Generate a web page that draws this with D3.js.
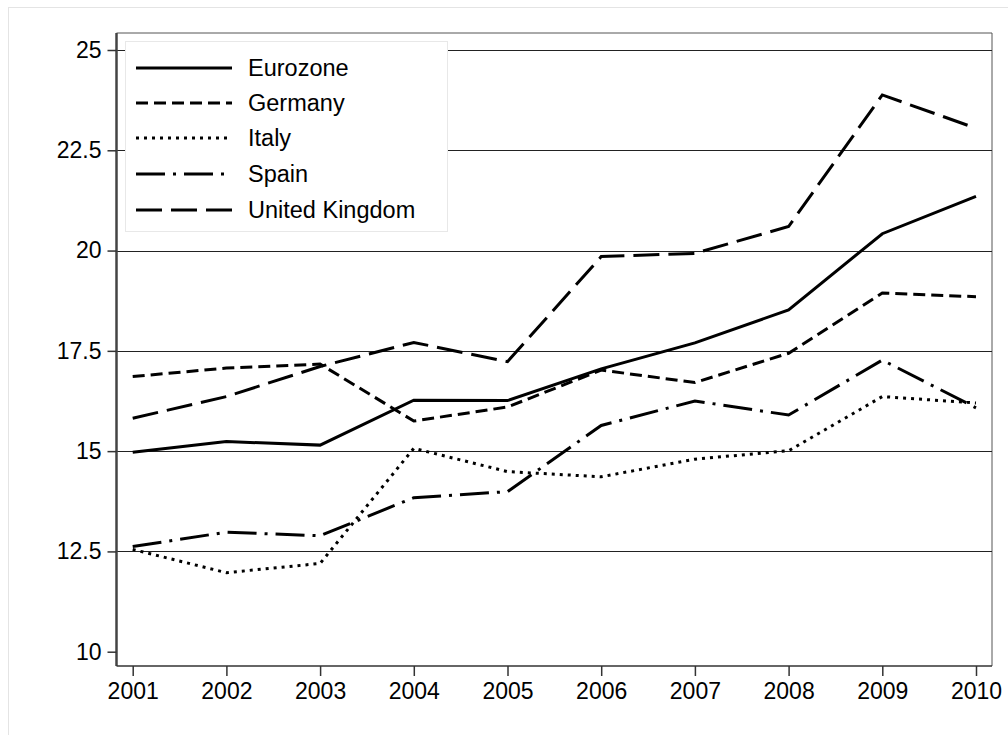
<!DOCTYPE html>
<html><head><meta charset="utf-8">
<script src="https://cdn.jsdelivr.net/npm/d3@7"></script>
<style>body{margin:0;background:#fff}svg{display:block}text{font-family:"Liberation Sans",Arial,Helvetica,sans-serif;fill:#000}</style>
</head><body>
<script>
const years = [2001,2002,2003,2004,2005,2006,2007,2008,2009,2010];
const eurozone = [14.97,15.24,15.15,16.27,16.26,17.05,17.7,18.52,20.42,21.35];
const germany = [16.86,17.07,17.17,15.75,16.1,17.02,16.71,17.44,18.94,18.85];
const italy = [12.55,11.97,12.2,15.07,14.49,14.36,14.8,15.01,16.36,16.2];
const spain = [12.62,12.98,12.89,13.84,13.99,15.64,16.25,15.9,17.27,16.08];
const uk = [15.82,16.36,17.11,17.71,17.23,19.85,19.93,20.6,23.88,23.05];
const seriesNames = ["Eurozone","Germany","Italy","Spain","United Kingdom"];
const yTicks = [10,12.5,15,17.5,20,22.5,25];
const yTickLabels = ["10","12.5","15","17.5","20","22.5","25"];

const dashes = ["", "12,6", "3,5", "29,8,3,8", "26,9"];
const seriesValues = [eurozone, germany, italy, spain, uk];

const W = 1008, H = 735;
const svg = d3.select("body").append("svg").attr("width", W).attr("height", H);

// outer faint frame
svg.append("rect").attr("x", 8.5).attr("y", 7.5).attr("width", W).attr("height", H)
  .attr("fill", "none").attr("stroke", "#e4e4e4").attr("stroke-width", 1);

const pLeft = 116.5, pRight = 992, pTop = 33, pBottom = 666;
const x = d3.scaleLinear().domain([2001, 2010]).range([132.7, 976]);
const y = d3.scaleLinear().domain([10, 25]).range([651.7, 50]);

// frame (top, right)
svg.append("path").attr("d", `M${pLeft},${pTop}H${pRight}V${pBottom}`)
  .attr("fill", "none").attr("stroke", "#555").attr("stroke-width", 1);

// gridlines
svg.append("g").selectAll("line").data(yTicks.filter(d => d > 10)).join("line")
  .attr("x1", pLeft).attr("x2", pRight)
  .attr("y1", d => Math.round(y(d)) + 0.5).attr("y2", d => Math.round(y(d)) + 0.5)
  .attr("stroke", "#222").attr("stroke-width", 1);

// y axis
const yAxis = d3.axisLeft(y).tickValues(yTicks).tickSize(9).tickPadding(6)
  .tickFormat((d, i) => yTickLabels[i]);
const gy = svg.append("g").attr("transform", `translate(${pLeft},0)`).call(yAxis);
gy.select(".domain").attr("d", `M0,${pTop}V${pBottom}`).attr("stroke", "#444").attr("stroke-width", 2.5);
gy.selectAll(".tick line").attr("stroke", "#333").attr("stroke-width", 1.5);
gy.selectAll(".tick text").attr("font-size", 23).attr("font-family", "Liberation Sans, Arial, sans-serif").attr("fill", "#000");

// x axis
const xAxis = d3.axisBottom(x).tickValues(years).tickSize(10).tickPadding(7).tickFormat(d3.format("d"));
const gx = svg.append("g").attr("transform", `translate(0,${pBottom})`).call(xAxis);
gx.select(".domain").attr("d", `M${pLeft},0H${pRight}`).attr("stroke", "#333").attr("stroke-width", 1.5);
gx.selectAll(".tick line").attr("stroke", "#333").attr("stroke-width", 1.5);
gx.selectAll(".tick text").attr("font-size", 23).attr("font-family", "Liberation Sans, Arial, sans-serif").attr("fill", "#000");

// lines
const line = d3.line().x((d, i) => x(years[i])).y(d => y(d));
seriesValues.forEach((vals, k) => {
  svg.append("path").datum(vals).attr("d", line)
    .attr("fill", "none").attr("stroke", "#000").attr("stroke-width", 3)
    .attr("stroke-dasharray", dashes[k] || null);
});

// legend
const lg = svg.append("g");
lg.append("rect").attr("x", 125.5).attr("y", 41.5).attr("width", 322).attr("height", 190)
  .attr("fill", "#fff").attr("stroke", "#e8e8e8").attr("stroke-width", 1);
const rowY = [68, 103, 138, 174, 210];
seriesNames.forEach((n, k) => {
  lg.append("line").attr("x1", 136).attr("x2", 232).attr("y1", rowY[k]).attr("y2", rowY[k])
    .attr("stroke", "#000").attr("stroke-width", 3).attr("stroke-dasharray", dashes[k] || null);
  lg.append("text").attr("x", 248).attr("y", rowY[k] + 8).attr("font-size", 23.5).text(n);
});
</script>
</body></html>
